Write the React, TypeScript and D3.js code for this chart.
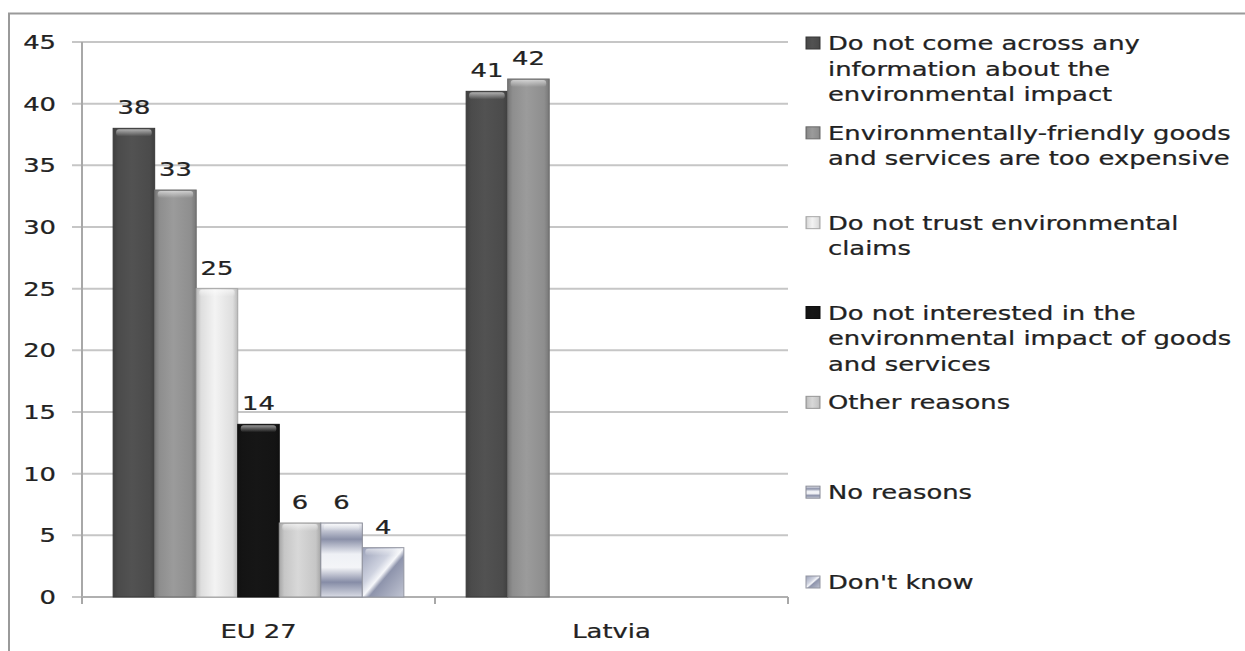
import React from 'react';
import * as d3 from 'd3';

const categories = ['EU 27', 'Latvia'];
const seriesNames = [
  'Do not come across any information about the environmental impact',
  'Environmentally-friendly goods and services are too expensive',
  'Do not trust environmental claims',
  'Do not interested in the environmental impact of goods and services',
  'Other reasons',
  'No reasons',
  "Don't know",
];
// legend lines as wrapped in the picture
const legendLines = [
  ['Do not come across any', 'information about the', 'environmental impact'],
  ['Environmentally-friendly goods', 'and services are too expensive'],
  ['Do not trust environmental', 'claims'],
  ['Do not interested in the', 'environmental impact of goods', 'and services'],
  ['Other reasons'],
  ['No reasons'],
  ["Don't know"],
];
const eu27Values = [38, 33, 25, 14, 6, 6, 4];
const latviaValues: (number | null)[] = [41, 42, null, null, null, null, null];
const yTicks = [0, 5, 10, 15, 20, 25, 30, 35, 40, 45];

const seriesColors = ['#4b4b4b', '#8e8e8e', '#dedede', '#141414', '#c6c6c6', '#b4b8c8', '#c4c8d6'];

const W = 1245;
const H = 651;
const SX = 1.29; // the original text is stretched sideways
const FONT = '"DejaVu Sans", Verdana, sans-serif';
const TEXT = '#222';

export default function App() {
  const plot = { left: 82, right: 788, top: 42, bottom: 597 };

  const x0 = d3.scaleBand<string>().domain(categories).range([plot.left, plot.right]).paddingInner(0).paddingOuter(0);
  const x1 = d3.scaleBand<string>()
    .domain(seriesNames)
    .range([0, x0.bandwidth()])
    .paddingOuter(0.75)
    .paddingInner(0);
  const y = d3.scaleLinear().domain([0, 45]).range([plot.bottom, plot.top]);

  const rows = categories.map((c, ci) => ({
    cat: c,
    values: ci === 0 ? eu27Values : latviaValues,
  }));

  const legendY = d3.scalePoint<string>().domain(seriesNames).range([43, 582]);

  const label = (tx: number, ty: number, s: string, anchor: string, size = 20, key?: string | number) => (
    <text
      key={key}
      transform={`translate(${tx},${ty}) scale(${SX},1)`}
      textAnchor={anchor as any}
      fontFamily={FONT}
      fontSize={size}
      fill={TEXT}
      stroke={TEXT}
      strokeWidth={0.25}
    >
      {s}
    </text>
  );

  const bw = x1.bandwidth();

  return (
    <svg width={W} height={H} style={{ position: 'absolute', left: 0, top: 0, background: '#fff' }}>
      <defs>
        {seriesColors.slice(0, 5).map((c, i) => {
          const dark = d3.color(c)!.darker(0.5).formatHex();
          const light = d3.color(c)!.brighter(0.25).formatHex();
          return (
            <linearGradient key={i} id={`hg${i}`} x1="0" x2="1" y1="0" y2="0">
              <stop offset="0" stopColor={dark} />
              <stop offset="0.12" stopColor={c} />
              <stop offset="0.45" stopColor={light} />
              <stop offset="0.88" stopColor={c} />
              <stop offset="1" stopColor={dark} />
            </linearGradient>
          );
        })}
        <linearGradient id="hg5" x1="0" x2="0" y1="0" y2="1">
          <stop offset="0" stopColor="#f2f3f7" />
          <stop offset="0.22" stopColor="#8a90a8" />
          <stop offset="0.42" stopColor="#eef0f5" />
          <stop offset="0.6" stopColor="#f4f5f8" />
          <stop offset="0.8" stopColor="#868ca6" />
          <stop offset="1" stopColor="#d8dbe4" />
        </linearGradient>
        <linearGradient id="hg6" x1="0" x2="1" y1="0" y2="1">
          <stop offset="0" stopColor="#9aa0b8" />
          <stop offset="0.38" stopColor="#cfd3e0" />
          <stop offset="0.5" stopColor="#f6f7fa" />
          <stop offset="0.58" stopColor="#8e94ac" />
          <stop offset="1" stopColor="#c0c4d2" />
        </linearGradient>
        <linearGradient id="bevel" x1="0" x2="0" y1="0" y2="1">
          <stop offset="0" stopColor="#fff" stopOpacity="0.55" />
          <stop offset="1" stopColor="#fff" stopOpacity="0" />
        </linearGradient>
      </defs>

      {/* outer frame */}
      <rect x={9} y={13.5} width={W + 20} height={H + 20} fill="none" stroke="#9a9a9a" strokeWidth={2} />

      {/* gridlines */}
      {yTicks.map((t) => (
        <line key={t} x1={plot.left - 10} x2={plot.right} y1={y(t)} y2={y(t)} stroke="#c6c6c6" strokeWidth={2} />
      ))}
      {/* y axis */}
      <line x1={plot.left} x2={plot.left} y1={plot.top} y2={plot.bottom + 6} stroke="#a8a8a8" strokeWidth={2} />
      {yTicks.map((t) => label(56, y(t) + 7, String(t), 'end', 20, `y${t}`))}

      {/* x axis */}
      <line x1={plot.left} x2={plot.right} y1={plot.bottom} y2={plot.bottom} stroke="#b0b0b0" strokeWidth={2} />
      {[...categories.map((c) => x0(c)!), plot.right].map((v, i) => (
        <line key={i} x1={v} x2={v} y1={plot.bottom} y2={plot.bottom + 7} stroke="#a8a8a8" strokeWidth={2} />
      ))}
      {categories.map((c) => label(x0(c)! + x0.bandwidth() / 2, 638, c, 'middle', 20, c))}

      {/* bars */}
      {rows.map((r) => (
        <g key={r.cat} transform={`translate(${x0(r.cat)},0)`}>
          {r.values.map((v, i) => {
            if (v == null) return null;
            const bx = x1(seriesNames[i])!;
            const top = y(v);
            const h = plot.bottom - top;
            return (
              <g key={i}>
                <rect x={bx} y={top} width={bw} height={h} fill={`url(#hg${i})`} stroke={d3.color(seriesColors[i])!.darker(0.8).formatHex()} strokeWidth={1} />
                <rect x={bx + 3} y={top + 1} width={bw - 6} height={7} rx={3} fill="url(#bevel)" />
                {label(bx + bw / 2, top - 14, String(v), 'middle', 20)}
              </g>
            );
          })}
        </g>
      ))}

      {/* legend */}
      <rect x={792} y={20} width={460} height={600} fill="#fff" />
      {seriesNames.map((s, i) => {
        const ly = legendY(s)!;
        return (
          <g key={s}>
            <rect x={806} y={ly - 6} width={14} height={12} fill={`url(#hg${i})`} stroke={d3.color(seriesColors[i])!.darker(0.8).formatHex()} strokeWidth={1} />
            {legendLines[i].map((ln, j) => label(828, ly + 7 + j * 25.5, ln, 'start', 20, j))}
          </g>
        );
      })}
    </svg>
  );
}
